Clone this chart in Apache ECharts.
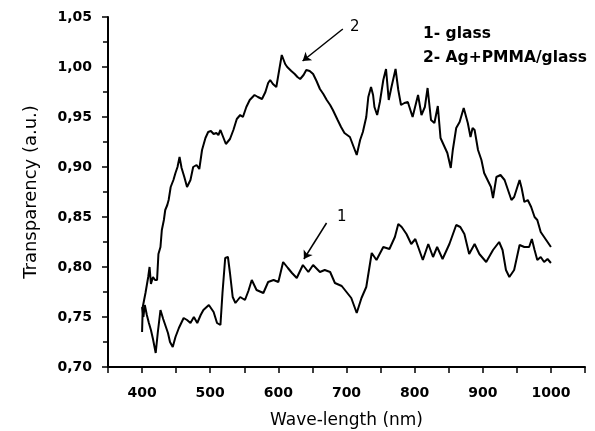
<!DOCTYPE html>
<html>
<head>
<meta charset="utf-8">
<script src="https://cdn.jsdelivr.net/npm/echarts@6/dist/echarts.min.js"></script>
<style>
html,body{margin:0;padding:0;background:#fff;}
#chart{width:595px;height:431px;}
</style>
</head>
<body>
<div id="chart"></div>
<script>
// Curve 2: Ag+PMMA/glass
const wl2 = [400,401,403,405,407,409,411,413,416,419,422,424,427,429,432,434,437,439,442,446,449,452,455,458,462,466,471,475,480,484,488,493,497,501,505,509,512,515,519,523,529,534,539,544,548,553,558,565,570,576,581,585,588,592,597,600,605,610,613,619,624,628,632,637,641,646,651,656,661,666,671,676,680,687,692,697,705,710,715,720,724,729,732,736,739,741,745,749,754,758,762,766,772,776,780,785,790,797,805,810,815,819,824,829,834,838,844,848,853,856,861,866,872,878,882,885,888,893,898,902,907,912,915,920,926,932,937,942,946,954,957,961,966,971,976,980,985,990,995,1000];
const tr2 = [0.735,0.760,0.767,0.774,0.782,0.790,0.800,0.783,0.790,0.787,0.787,0.813,0.820,0.837,0.847,0.857,0.862,0.867,0.880,0.887,0.894,0.900,0.910,0.899,0.890,0.880,0.887,0.900,0.902,0.898,0.917,0.929,0.935,0.936,0.933,0.934,0.932,0.937,0.930,0.923,0.928,0.937,0.948,0.952,0.950,0.960,0.967,0.972,0.970,0.968,0.975,0.984,0.987,0.983,0.980,0.992,1.012,1.003,1.000,0.996,0.993,0.990,0.988,0.992,0.997,0.996,0.993,0.986,0.978,0.973,0.967,0.962,0.957,0.947,0.940,0.934,0.930,0.921,0.912,0.927,0.935,0.950,0.970,0.980,0.972,0.960,0.952,0.965,0.987,0.998,0.967,0.980,0.998,0.977,0.962,0.964,0.965,0.950,0.972,0.952,0.960,0.979,0.947,0.944,0.961,0.929,0.920,0.914,0.899,0.917,0.939,0.945,0.959,0.944,0.930,0.939,0.937,0.917,0.907,0.894,0.887,0.880,0.869,0.890,0.892,0.887,0.877,0.867,0.870,0.887,0.879,0.865,0.867,0.860,0.850,0.847,0.835,0.830,0.825,0.820];

// Curve 1: glass
const wl1 = [400,402,404,407,410,413,416,420,423,427,431,435,438,441,445,449,454,461,466,471,476,481,486,490,498,505,510,515,518,522,526,529,533,537,544,551,556,561,568,578,585,593,600,607,614,620,627,636,644,651,661,668,676,683,693,700,707,715,722,729,737,744,754,763,771,776,781,788,795,801,812,820,827,833,841,851,861,867,873,880,888,895,905,915,924,929,934,939,946,954,961,968,972,976,980,985,990,995,1000];
const tr1 = [0.760,0.750,0.762,0.752,0.744,0.737,0.728,0.714,0.734,0.757,0.748,0.740,0.734,0.725,0.720,0.730,0.739,0.749,0.747,0.744,0.750,0.744,0.752,0.757,0.762,0.755,0.744,0.742,0.774,0.809,0.810,0.794,0.770,0.764,0.770,0.767,0.776,0.787,0.777,0.774,0.785,0.787,0.785,0.805,0.799,0.794,0.789,0.802,0.795,0.802,0.795,0.797,0.795,0.784,0.781,0.775,0.769,0.754,0.769,0.780,0.814,0.807,0.820,0.818,0.830,0.843,0.840,0.833,0.823,0.828,0.807,0.823,0.810,0.820,0.808,0.823,0.842,0.840,0.833,0.813,0.823,0.813,0.805,0.817,0.825,0.817,0.797,0.790,0.797,0.822,0.820,0.820,0.828,0.817,0.807,0.810,0.805,0.808,0.804];

const legendLines = ['1- glass', '2- Ag+PMMA/glass'];
const xTitle = 'Wave-length (nm)';
const yTitle = 'Transparency (a.u.)';

const zip = (xs, ys) => xs.map((x, i) => [x, ys[i]]);

const chart = echarts.init(document.getElementById('chart'));
const tickFont = {fontFamily: 'DejaVu Sans', fontWeight: 'bold', fontSize: 14, color: '#000'};
const arrowLine = {color: '#000', width: 1.5, type: 'solid'};
const legendFont = {fontFamily: 'DejaVu Sans', fontWeight: 'bold', fontSize: 15.5, fill: '#000'};

chart.setOption({
  animation: false,
  backgroundColor: '#fff',
  grid: {left: 108, right: 10, top: 17, bottom: 64, containLabel: false, outerBoundsMode: 'none'},
  xAxis: {
    type: 'value', min: 350, max: 1050, interval: 50,
    name: xTitle, nameLocation: 'middle', nameGap: 45,
    nameTextStyle: {fontFamily: 'DejaVu Sans', fontSize: 17, color: '#000'},
    axisLine: {show: true, onZero: false, lineStyle: {color: '#000', width: 2}},
    axisTick: {show: true, length: 6, lineStyle: {color: '#000', width: 1.5}},
    axisLabel: Object.assign({margin: 19, formatter: v => (v % 100 === 0 && v >= 400 && v <= 1000) ? String(v) : ''}, tickFont),
    splitLine: {show: false}
  },
  yAxis: {
    type: 'value', min: 0.70, max: 1.05, interval: 0.05,
    name: yTitle, nameLocation: 'middle', nameGap: 68, nameRotate: 90,
    nameTextStyle: {fontFamily: 'DejaVu Sans', fontSize: 18, color: '#000'},
    axisLine: {show: true, lineStyle: {color: '#000', width: 2}},
    axisTick: {show: true, length: 6, lineStyle: {color: '#000', width: 1.5}},
    minorTick: {show: true, splitNumber: 2, length: 5, lineStyle: {color: '#000', width: 1.5}},
    axisLabel: Object.assign({margin: 16, formatter: v => v.toFixed(2).replace('.', ',')}, tickFont),
    splitLine: {show: false}
  },
  graphic: [
    {type: 'text', left: 423, top: 26, style: Object.assign({text: legendLines[0]}, legendFont)},
    {type: 'text', left: 423, top: 50, style: Object.assign({text: legendLines[1]}, legendFont)}
  ],
  series: [
    {
      type: 'line', name: legendLines[0], data: zip(wl1, tr1), showSymbol: false, smooth: false,
      lineStyle: {color: '#000', width: 2}, itemStyle: {color: '#000'}, silent: true,
      markLine: {
        silent: true, symbol: ['none', 'arrow'], symbolSize: 8,
        label: {show: false}, lineStyle: arrowLine,
        data: [[{coord: [670.7, 0.844]}, {coord: [637.5, 0.808]}]]
      },
      markPoint: {
        silent: true, symbol: 'circle', symbolSize: 0,
        label: {show: true, formatter: '1', fontFamily: 'DejaVu Sans', fontSize: 15, color: '#000', position: 'inside'},
        data: [{coord: [693, 0.850]}]
      }
    },
    {
      type: 'line', name: legendLines[1], data: zip(wl2, tr2), showSymbol: false, smooth: false,
      lineStyle: {color: '#000', width: 2}, itemStyle: {color: '#000'}, silent: true,
      markLine: {
        silent: true, symbol: ['none', 'arrow'], symbolSize: 8,
        label: {show: false}, lineStyle: arrowLine,
        data: [[{coord: [694.6, 1.038]}, {coord: [635.6, 1.006]}]]
      },
      markPoint: {
        silent: true, symbol: 'circle', symbolSize: 0,
        label: {show: true, formatter: '2', fontFamily: 'DejaVu Sans', fontSize: 15, color: '#000', position: 'inside'},
        data: [{coord: [712, 1.040]}]
      }
    }
  ]
});
</script>
</body>
</html>
